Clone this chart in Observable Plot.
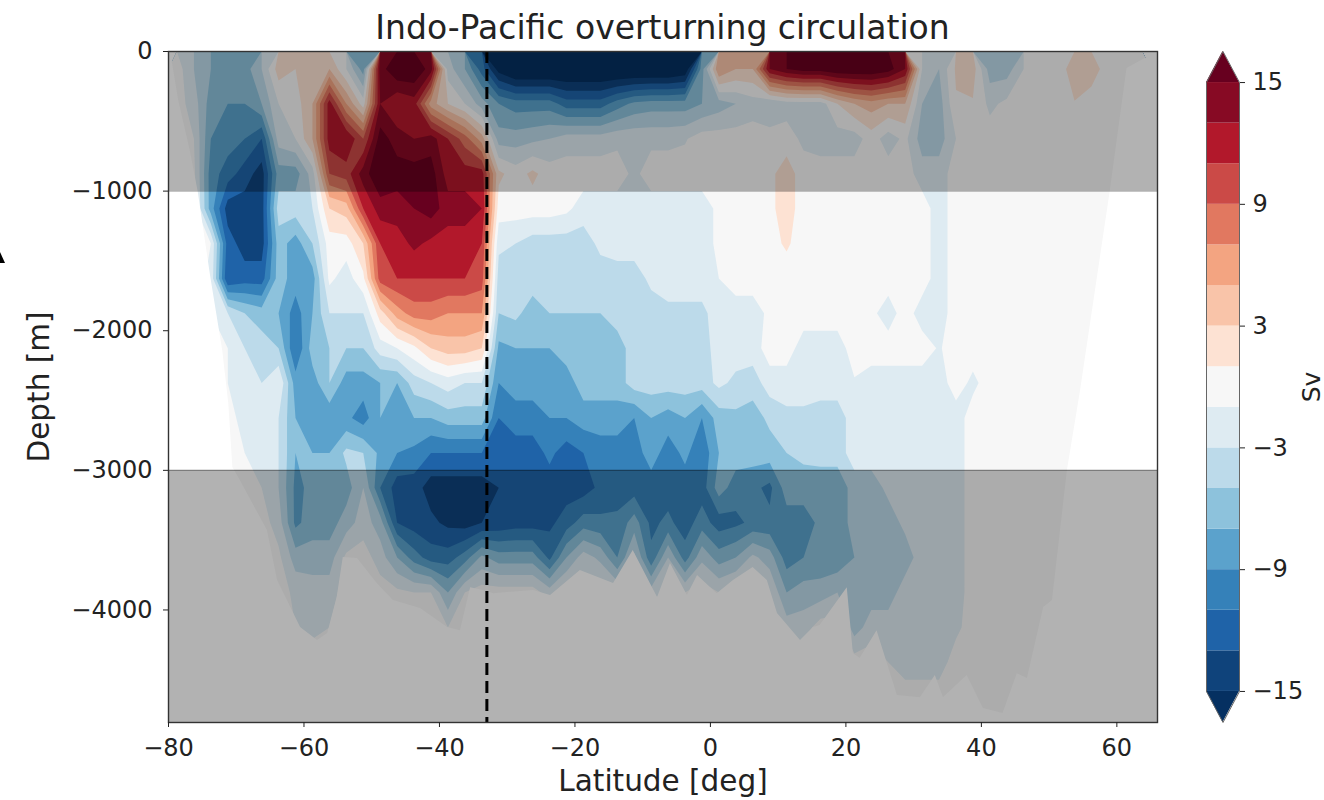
<!DOCTYPE html>
<html><head><meta charset="utf-8">
<script src="https://cdn.jsdelivr.net/npm/d3@7"></script>
<script src="https://cdn.jsdelivr.net/npm/@observablehq/plot@0.6"></script>
<style>
html,body{margin:0;padding:0;width:1324px;height:800px;overflow:hidden;background:#fff;font-family:"DejaVu Sans",sans-serif;color:#222}
#title{position:absolute;left:168px;width:989px;top:8px;text-align:center;font-size:33px;line-height:40px;white-space:nowrap}
#main{position:absolute;left:0;top:0}
#bar{position:absolute;left:1190px;top:0}
#stray{position:absolute;left:0;top:252px;width:5px;height:11px;background:#000;clip-path:polygon(0 0,100% 100%,0 100%)}
</style></head><body>
<div id="main"></div><div id="bar"></div>
<div id="title">Indo-Pacific overturning circulation</div>
<div id="stray"></div>
<script>
// Streamfunction [Sv]: one array per depth (m), columns every 2.5 deg from -78.75
const d125=[0,-3,-5,-6,-6,-3,2,1,2,3, -1,-6,14,17,17,14,-2,-5,-10,-16, -18,-18,-18,-18,-18,-18,-18,-18,-18,-18, -17,-6,5,3,3,13,15,16,16,17, 17,17,16,13,-1,-3,1.3,2,-4,-4, -1,0,0,2,2,0,0,0];
const d375=[0,-2,-6,-7,-7,-5,-1,0,3,12, 5,0,13,11,12,4,1,-1,-4,-7, -8,-8,-8,-10,-10,-10,-8,-6.5,-6,-6, -6,-5,-4,-3,-2,-3,-2,-2,-2,1, 3,4,3,3,-3,-4,0.8,0.8,-1.5,-0.5, 0,0,0,0.9,0,0,0,0];
const d625=[0,-1,-7,-8,-9,-11,-2,-1,3,12, 13,9,16,14,13,14,11,8,4,-4, -4,-3.5,-3,-2,-2,-2,-1.5,-1.5,-1.5,-1.5, -1.2,0,0,0,0,0,0,-1.5,-2,-2, -2,0,-2,-0.5,-4,-4,-1,0,0,0, 0,0,0,0,0,0,0,0];
const d875=[0,-0.5,-8,-10,-12,-14,-6,-6,-2,9, 10,14,17,16,16,16,12,12,12,1.5, 0,1.5,0,0,0,0,0,-1.5,0,0, 0,0,0,0,0,0.5,2,0,0,0, 0,0,0,0,-2,-2,0,0,0,0, 0,0,0,0,0,0,0,0];
const d1125=[0,0,-8,-14,-14,-14,-4,-4,-3,3, 4,11,14,14,15,16,14,14,13,0, 0,0,0,-0.5,-2,-2,-2,-2,-2,-2, -2,-2,-0.5,0,0,0.5,2,0,0,0, 0,0,0,0,0,-2,0,0,0,0, 0,0,0,0,0,0,0,0];
const d1375=[0,0,-1,-12,-14,-14,-6,-8,-5,0, 0,3,11,12,13.5,12.5,12,12,11,-2.5, -3,-4,-4,-4,-4,-2.5,-2,-2,-2,-2, -2,-2,-0.5,0,0,0.3,1.3,0,0,0, 0,0,0,0,0,-2,0,0,0,0, 0,0,0,0,0,0,0,0];
const d1625=[0,0,-1.5,-13,-12,-12,-6,-8,-8,-0.5, -2,0.5,10,11,11,11,11,11,10,-4, -4,-4,-4,-4,-4,-4,-4,-4,-2.5,-2, -2,-2,-1,0,0,0,0,0,0,0, 0,0,0,0,0,-2,0,0,0,0, 0,0,0,0,0,0,0,0];
const d1875=[0,0,-1,-3,-5,-6,-7,-10,-7,-3, -3,-3,2,6,8,8,7,7,7,-5, -4.5,-6,-5,-5,-5,-5,-4,-4,-4,-3.5, -3.5,-3.5,-2,-2,-2,-0.5,0,0,0,0, 0,-0.5,-2,0,-2,-2,0,0,0,0, 0,0,0,0,0,0,0,0];
const d2125=[0,0,0,-1,-3,-4,-5,-11,-6,-5, -5,-5,-2,-1,0.5,3,4,4,3,-7.5, -7,-7,-7,-6,-6,-6,-6,-4,-4,-4, -4,-4,-2,-2,-2,0,0,-2,-2,-2, 0,0,0,0,0,-1.2,0,0,0,0, 0,0,0,0,0,0,0,0];
const d2375=[0,0,0,-1,-2,-3,-1,-8,-8,-5, -8,-8,-7,-7,-4,-3,-2,-3,-3,-9, -8,-8,-8,-8,-6,-6,-6,-4,-4,-4, -4,-4,-2.5,-3.5,-4,-2,-2,-2,-2,-2, -1.2,-2,-2,-2,-2,-2,0,-1.5,0,0, 0,0,0,0,0,0,0,0];
const d2625=[0,0,0,-0.5,-1.5,-3,-3,-7,-9,-8.5, -8.5,-10,-7,-9,-7,-7,-6,-6,-6,-11, -10,-10,-9,-9,-8,-8,-8,-9,-7,-8, -7,-9,-6,-5.5,-6,-4.5,-3.5,-3.5,-4,-4, -2,-2,-2,-2,-2,-2,-2,0,0,0, 0,0,0,0,0,0,0,0];
const d2875=[0,0,0,0,-1,-2,-3,-7,-7,-7, -4.5,-5,-7.5,-9,-9.5,-11,-11,-11,-11,-12, -12,-12,-10.5,-12,-11,-10,-10,-10,-8,-10, -8.5,-10.5,-7,-6,-6,-6,-5,-4.5,-4,-4, -2,-2,-2,-2,-2,-2,-2,0,0,0, 0,0,0,0,0,0,0,0];
const d3125=[0,0,0,0,-0.5,-1,-3,-7.5,-6.5,-6, -6,-3,-9,-12,-12,-14,-14,-14,-14,-13, -12,-12,-12,-12,-12,-10.5,-10,-10,-10,-10, -10,-10,-6,-8,-8.5,-9.5,-6,-6,-6.5,-6.5, -4,-4,-2.5,-2,-2,-2,-2,0,0,0, 0,0,0,0,0,0,0,0];
const d3375=[0,0,0,0,0,0,-2,-7.5,-6,-6, -4,-2,-4,-11,-12,-12.5,-13.5,-14,-13,-12.5, -12,-12,-11.5,-10,-8,-8.5,-8.5,-6,-9.5,-8.5, -10,-8,-10,-9.5,-8.5,-8.5,-8,-8,-6.5,-6.5, -4,-4,-4,-2.5,-2,-2,-2,0,0,0, 0,0,0,0,0,0,0,0];
const d3625=[0,0,0,0,0,0,-0.5,-4,-4,-4, -0.5,0,-2,-5,-8,-10,-10,-8,-4.5,-6, -6,-6,-9.5,-5,-2,-3.5,-7,-2.5,-8.5,-3, -8,-3.5,-6,-5,-2.5,-4,-8,-7,-6.5,-6.5, -5,-4,-4,-4,-2,-2,-2,0,0,0, 0,0,0,0,0,0,0,0];
const d3875=[0,0,0,0,0,0,0,-1.5,-2,-2, 0,0,0,-0.5,-1,-1,-5,-1,0,0, 0,0,-2,0,0,0,-1,0,-2,0, -1,0,-1,0,0,-1,-5,-4,-4,-3, -4.5,-4,-4,-2,-2,-2,-2,0,0,0, 0,0,0,0,0,0,0,0];
const d4125=[0,0,0,0,0,0,0,-1,-1.5,-1, 0,0,0,0,0,0,-1,0,0,0, 0,0,0,0,0,0,0,0,0,0, 0,0,0,0,0,0,-2,-2,0,0, -4,-2,-2,-2,-2,-2,-1.5,0,0,0, 0,0,0,0,0,0,0,0];
const d4375=[0,0,0,0,0,0,0,0,0,0, 0,0,0,0,0,0,0,0,0,0, 0,0,0,0,0,0,0,0,0,0, 0,0,0,0,0,0,0,0,0,0, 0,0,-1,-2,-2,-2,0,0,0,0, 0,0,0,0,0,0,0,0];
const d4625=[0,0,0,0,0,0,0,0,0,0, 0,0,0,0,0,0,0,0,0,0, 0,0,0,0,0,0,0,0,0,0, 0,0,0,0,0,0,0,0,0,0, 0,0,0,0,0,0,0,0,0,0, 0,0,0,0,0,0,0,0];
const rows=[d125,d375,d625,d875,d1125,d1375,d1625,d1875,d2125,d2375,d2625,d2875,d3125,d3375,d3625,d3875,d4125,d4375,d4625];

// Sea floor
const floorLat=[-80,-79.7,-78.5,-76.8,-75.6,-73.8,-72,-71.1,-70.5,-69.4,-65.4,-63.9,-60.5,-58,-56.5,-55.1,-54.2,-52.1,-49.2,-46.8,-42.8,-38.8,-36.9,-35.4,-33.5,-32,-26.1,-23.6,-19.2,-14.3,-11.4,-7.8,-5.9,-3.4,-1.9,1,3.4,6.3,8.4,9.9,13.3,15.2,16.2,20.2,21.1,22.1,24.6,27.6,31,33.2,34.4,37.9,40.3,43.2,45.3,46.8,49.2,50.5,52.7,54.6,59,61.5,65,66];
const floorDepth=[0,0,-351,-709,-1010,-1605,-2142,-2521,-2980,-3073,-3431,-3789,-4126,-4219,-4169,-3911,-3625,-3632,-3811,-3933,-3990,-4126,-4148,-3840,-3861,-3883,-3861,-3897,-3718,-3811,-3574,-3911,-3668,-3897,-3754,-3883,-3789,-3696,-3789,-4026,-4219,-4126,-4112,-3840,-4312,-4348,-4148,-4613,-4628,-4470,-4628,-4470,-4706,-4742,-4456,-4491,-3983,-3933,-3001,-2443,-1010,-122,-29,0];

const levels=[-15,-13,-11,-9,-7,-5,-3,-1,1,3,5,7,9,11,13,15];
const colors=["#053061","#0f437b","#1f63a8","#3581b9","#5ba2cc","#8dc2dc","#bcdaea","#deebf2","#f7f7f7","#fde2d3","#f9c4a9","#f3a481","#e17860","#cb4a47","#b2182b","#870a24","#67001f"];
const shadedTop=[0,-1000], shadedBottom=[-3000,-4806];
const xTicks=[-80,-60,-40,-20,0,20,40,60];
const yTicks=[0,-1000,-2000,-3000,-4000];
const barTicks=[15,9,3,-3,-9,-15];
const sectionLat=-33;

const minus=d=>String(d).replace("-","\u2212");
const colorScale={type:"threshold",domain:levels,range:colors};
const font={fontFamily:"'DejaVu Sans',sans-serif",fontSize:"24px",color:"#222",background:"transparent"};
const floor=floorLat.map((lat,i)=>({lat,depth:floorDepth[i]}));

const main=Plot.plot({
  width:1324,height:800,marginLeft:168,marginRight:167,marginTop:51,marginBottom:78,
  style:font,color:colorScale,
  x:{domain:[-80,66]},y:{domain:[-4806,0]},
  marks:[
    Plot.contour(rows.flat(),{width:58,height:19,x1:-80,x2:65,y1:0,y2:-4750,fill:Plot.identity,thresholds:[-100,...levels]}),
    Plot.areaY(floor,{x:"lat",y1:"depth",y2:-4806,fill:"white"}),
    Plot.rect([{a:shadedTop[0],b:shadedTop[1]},{a:shadedBottom[0],b:shadedBottom[1]}],{x1:-80,x2:66,y1:"a",y2:"b",fill:"black",fillOpacity:0.3}),
    Plot.ruleY([shadedTop[1],shadedBottom[0]],{stroke:"black",strokeOpacity:0.3,strokeWidth:1.2}),
    Plot.ruleX([sectionLat],{stroke:"black",strokeWidth:3,strokeDasharray:"12,6"}),
    Plot.frame({stroke:"#333",strokeWidth:1.4}),
    Plot.axisX({ticks:xTicks,tickFormat:minus,tickSize:5,tickPadding:11,label:"Latitude [deg]",labelAnchor:"center",labelArrow:"none",labelOffset:68,fontSize:24}),
    Plot.axisY({ticks:yTicks,tickFormat:minus,tickSize:5,tickPadding:11,label:"Depth [m]",labelAnchor:"center",labelArrow:"none",labelOffset:140,fontSize:24})
  ]
});
main.querySelectorAll('[aria-label="x-axis label"] text,[aria-label="y-axis label"] text').forEach(t=>t.style.fontSize="29.5px");
document.getElementById("main").append(main);

const bands=colors.slice(1,-1).map((c,i)=>({lo:levels[i],hi:levels[i+1],v:levels[i]}));
const ext=16.53;
const bar=Plot.plot({
  width:134,height:800,marginLeft:16,marginRight:85,marginTop:51,marginBottom:78,
  style:font,color:colorScale,
  x:{domain:[0,1],axis:null},y:{domain:[-ext,ext]},
  marks:[
    Plot.rect(bands,{x1:0,x2:1,y1:"lo",y2:"hi",fill:"v"}),
    Plot.areaY([{x:0,y:15},{x:0.5,y:ext},{x:1,y:15}],{x:"x",y1:15,y2:"y",fill:colors[16]}),
    Plot.areaY([{x:0,y:-15},{x:0.5,y:-ext},{x:1,y:-15}],{x:"x",y1:-15,y2:"y",fill:colors[0]}),
    Plot.line([{x:0,y:-15},{x:0,y:15},{x:0.5,y:ext},{x:1,y:15},{x:1,y:-15},{x:0.5,y:-ext},{x:0,y:-15}],{x:"x",y:"y",stroke:"#666",strokeWidth:1}),
    Plot.axisY({anchor:"right",ticks:barTicks,tickFormat:minus,tickSize:5,tickPadding:8,label:"Sv",labelAnchor:"center",labelArrow:"none",labelOffset:80,fontSize:24})
  ]
});
bar.querySelectorAll('[aria-label="y-axis label"] text').forEach(t=>t.style.fontSize="25px");
document.getElementById("bar").append(bar);
</script>
</body></html>
